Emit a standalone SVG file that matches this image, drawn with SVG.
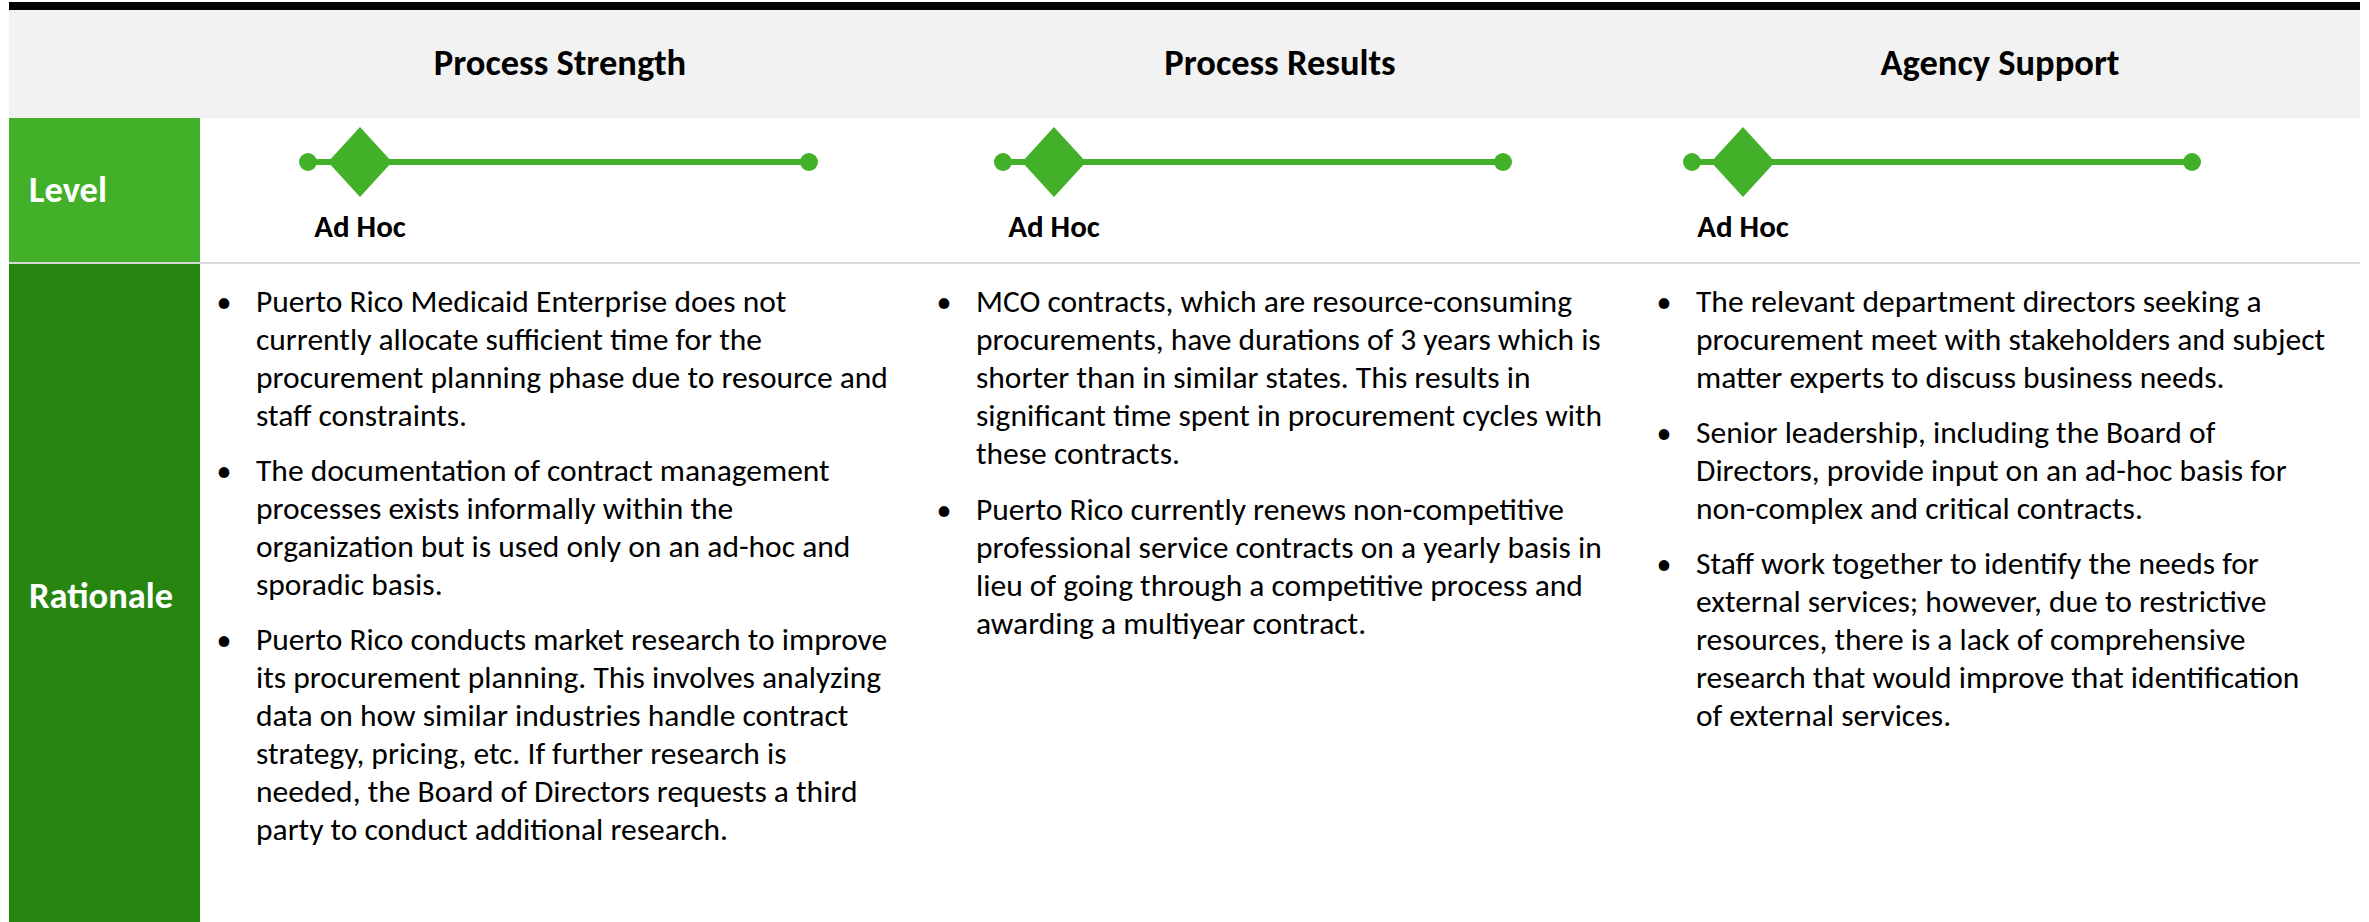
<svg xmlns="http://www.w3.org/2000/svg" width="2369" height="922" viewBox="0 0 2369 922">
<defs>
<style>
.hdr{font-family:Carlito,Calibri,Lato,"Liberation Sans",sans-serif;font-weight:700;font-size:36.5px;fill:#000;text-anchor:middle}
.lbl{font-family:Carlito,Calibri,Lato,"Liberation Sans",sans-serif;font-weight:700;font-size:36.5px;fill:#fff}
.lvl{font-family:Carlito,Calibri,Lato,"Liberation Sans",sans-serif;font-weight:700;font-size:31px;fill:#000;text-anchor:middle}
.body{font-family:Carlito,Calibri,Lato,"Liberation Sans",sans-serif;font-size:31.5px;fill:#000}
.bul{font-family:Carlito,Calibri,Lato,"Liberation Sans",sans-serif;font-size:30px;fill:#000;text-anchor:middle}
.mark{fill:#43B02A}
.track{stroke:#43B02A;stroke-width:6;fill:none}
</style>
</defs>
<rect width="2369" height="922" fill="#ffffff"/>

<g id="header">
<rect x="9" y="2" width="2351" height="8" fill="#000000"/>
<rect x="9" y="10" width="2351" height="108" fill="#F2F2F2"/>
<text class="hdr" x="560" y="75">Process Strength</text>
<text class="hdr" x="1280" y="75">Process Results</text>
<text class="hdr" x="2000" y="75">Agency Support</text>
</g>

<g id="row-level">
<rect x="9" y="118" width="191" height="144" fill="#43B02A"/>
<text class="lbl" x="29" y="202">Level</text>
</g>

<rect x="9" y="262" width="2351" height="2" fill="#D9D9D9"/>

<g id="row-rationale">
<rect x="9" y="264" width="191" height="658" fill="#27860F"/>
<text class="lbl" x="29" y="608">Rationale</text>
</g>

<g id="level-process-strength">
<line class="track" x1="308" y1="162" x2="809" y2="162"/>
<circle class="mark" cx="308" cy="162" r="9"/>
<circle class="mark" cx="809" cy="162" r="9"/>
<polygon class="mark" points="360,127 392,162 360,197 328,162"/>
<text class="lvl" x="360" y="237">Ad Hoc</text>
</g>

<g id="level-process-results">
<line class="track" x1="1003" y1="162" x2="1503" y2="162"/>
<circle class="mark" cx="1003" cy="162" r="9"/>
<circle class="mark" cx="1503" cy="162" r="9"/>
<polygon class="mark" points="1054,127 1086,162 1054,197 1022,162"/>
<text class="lvl" x="1054" y="237">Ad Hoc</text>
</g>

<g id="level-agency-support">
<line class="track" x1="1692" y1="162" x2="2192" y2="162"/>
<circle class="mark" cx="1692" cy="162" r="9"/>
<circle class="mark" cx="2192" cy="162" r="9"/>
<polygon class="mark" points="1743,127 1775,162 1743,197 1711,162"/>
<text class="lvl" x="1743" y="237">Ad Hoc</text>
</g>

<g id="rationale-process-strength">
<text class="bul" x="224" y="312">•</text>
<text class="body"><tspan x="256" y="312">Puerto Rico Medicaid Enterprise does not</tspan><tspan x="256" y="350">currently allocate sufficient time for the</tspan><tspan x="256" y="388">procurement planning phase due to resource and</tspan><tspan x="256" y="426">staff constraints.</tspan></text>
<text class="bul" x="224" y="481">•</text>
<text class="body"><tspan x="256" y="481">The documentation of contract management</tspan><tspan x="256" y="519">processes exists informally within the</tspan><tspan x="256" y="557">organization but is used only on an ad-hoc and</tspan><tspan x="256" y="595">sporadic basis.</tspan></text>
<text class="bul" x="224" y="650">•</text>
<text class="body"><tspan x="256" y="650">Puerto Rico conducts market research to improve</tspan><tspan x="256" y="688">its procurement planning. This involves analyzing</tspan><tspan x="256" y="726">data on how similar industries handle contract</tspan><tspan x="256" y="764">strategy, pricing, etc. If further research is</tspan><tspan x="256" y="802">needed, the Board of Directors requests a third</tspan><tspan x="256" y="840">party to conduct additional research.</tspan></text>
</g>

<g id="rationale-process-results">
<text class="bul" x="944" y="312">•</text>
<text class="body"><tspan x="976" y="312">MCO contracts, which are resource-consuming</tspan><tspan x="976" y="350">procurements, have durations of 3 years which is</tspan><tspan x="976" y="388">shorter than in similar states. This results in</tspan><tspan x="976" y="426">significant time spent in procurement cycles with</tspan><tspan x="976" y="464">these contracts.</tspan></text>
<text class="bul" x="944" y="520">•</text>
<text class="body"><tspan x="976" y="520">Puerto Rico currently renews non-competitive</tspan><tspan x="976" y="558">professional service contracts on a yearly basis in</tspan><tspan x="976" y="596">lieu of going through a competitive process and</tspan><tspan x="976" y="634">awarding a multiyear contract.</tspan></text>
</g>

<g id="rationale-agency-support">
<text class="bul" x="1664" y="312">•</text>
<text class="body"><tspan x="1696" y="312">The relevant department directors seeking a</tspan><tspan x="1696" y="350">procurement meet with stakeholders and subject</tspan><tspan x="1696" y="388">matter experts to discuss business needs.</tspan></text>
<text class="bul" x="1664" y="443">•</text>
<text class="body"><tspan x="1696" y="443">Senior leadership, including the Board of</tspan><tspan x="1696" y="481">Directors, provide input on an ad-hoc basis for</tspan><tspan x="1696" y="519">non-complex and critical contracts.</tspan></text>
<text class="bul" x="1664" y="574">•</text>
<text class="body"><tspan x="1696" y="574">Staff work together to identify the needs for</tspan><tspan x="1696" y="612">external services; however, due to restrictive</tspan><tspan x="1696" y="650">resources, there is a lack of comprehensive</tspan><tspan x="1696" y="688">research that would improve that identification</tspan><tspan x="1696" y="726">of external services.</tspan></text>
</g>
</svg>
